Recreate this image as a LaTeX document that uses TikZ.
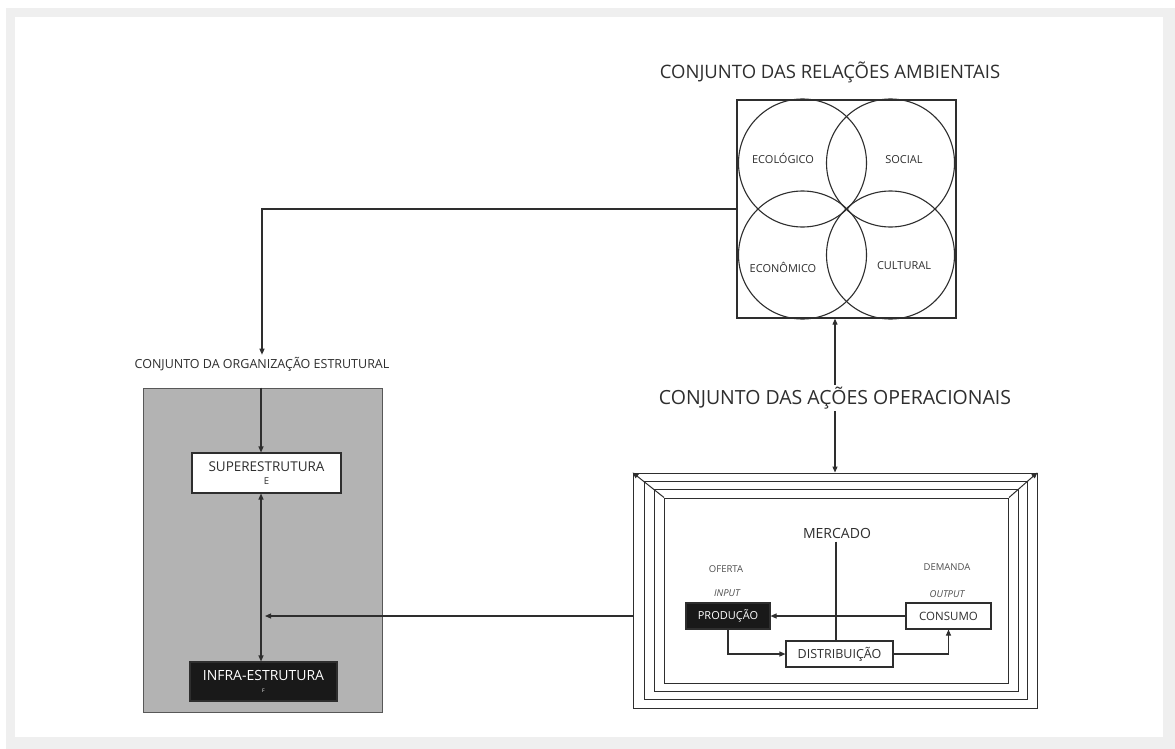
\documentclass[tikz,border=0pt]{standalone}
\usepackage{fontspec}
\setmainfont{Open Sans}
\usetikzlibrary{arrows.meta}

\definecolor{pagegray}{HTML}{EFEFEF}
\definecolor{boxgray}{HTML}{B3B3B3}
\definecolor{ink}{HTML}{2E2E2E}

\tikzset{
  wire/.style={line width=1.1pt, draw=ink},
  arr/.style={wire, -{Triangle[length=6pt,width=5pt]}},
  darr/.style={wire, {Triangle[length=6pt,width=5pt]}-{Triangle[length=6pt,width=5pt]}},
  title/.style={text=ink, inner sep=2pt},
  circlabel/.style={text=ink, font=\fontsize{11}{12}\selectfont},
  tiny/.style={text=ink!85, font=\fontsize{9.5}{10}\selectfont},
  whitebox/.style={draw=ink, line width=1.1pt, fill=white, inner sep=0pt, text=ink},
  blackbox/.style={draw=ink, line width=1.1pt, fill=black!90, inner sep=0pt, text=white},
  framerect/.style={draw=ink, line width=1pt},
}

\begin{document}
\begin{tikzpicture}[x=1pt, y=-1pt]
\useasboundingbox (0,0) rectangle (1175,749);
% page background
\fill[pagegray] (6,8) rectangle (1175,749);
\fill[white] (15,17) rectangle (1163,737);

% ---------- environmental relations ----------
\node[title, font=\fontsize{18.5}{20}\selectfont] (ambtitle) at (830,72) {CONJUNTO DAS RELAÇÕES AMBIENTAIS};
\node[draw=ink, line width=1.3pt, minimum width=219pt, minimum height=218pt, inner sep=0pt] (amb) at (846.5,209) {};
\draw[wire] (amb.center) ++(-44,-46) circle[radius=64pt];
\draw[wire] (amb.center) ++(44,-46) circle[radius=64pt];
\draw[wire] (amb.center) ++(-44,46) circle[radius=64pt];
\draw[wire] (amb.center) ++(44,46) circle[radius=64pt];
\node[circlabel] (eco) at (783,158) {ECOLÓGICO};
\node[circlabel] (soc) at (904,160) {SOCIAL};
\node[circlabel] (econ) at (783,267) {ECONÔMICO};
\node[circlabel] (cult) at (904,266) {CULTURAL};

% ---------- structural organisation ----------
\node[text=ink, font=\fontsize{12.5}{14}\selectfont, inner sep=2pt] (org) at (262,364) {CONJUNTO DA ORGANIZAÇÃO ESTRUTURAL};
\draw[arr] (amb.west) -| (org.north);

\node[draw=ink!80, line width=1pt, fill=boxgray, minimum width=239pt, minimum height=324pt, inner sep=0pt] (orgbox) at (262.5,550) {};
\coordinate (spine) at (261,0);
\node[whitebox, minimum width=149pt, minimum height=40pt, align=center] (super) at (266.5,473)
  {\fontsize{13.5}{14}\selectfont SUPERESTRUTURA\\[1pt]\fontsize{9.5}{10}\selectfont E};
\node[blackbox, minimum width=147pt, minimum height=39pt, align=center] (infra) at (263.5,681.5)
  {\fontsize{14}{14}\selectfont INFRA-ESTRUTURA\\[0pt]\fontsize{5}{6}\selectfont F};
\draw[arr] (orgbox.north -| spine) -- (super.north -| spine);
\draw[darr] (super.south -| spine) -- (infra.north -| spine);

% ---------- operational actions ----------
\node[title, font=\fontsize{19.5}{21}\selectfont] (ops) at (835,398) {CONJUNTO DAS AÇÕES OPERACIONAIS};
\draw[arr] (ops.north) -- (ops.north |- amb.south);

% nested frame
\node[framerect, minimum width=404pt, minimum height=235pt, inner sep=0pt] (frame) at (835,590.5) {};
\draw[framerect] (644.5,481.3) rectangle (1027.5,699.7);
\draw[framerect] (654.5,489.6) rectangle (1018,691.4);
\node[framerect, minimum width=344pt, minimum height=185pt, inner sep=0pt] (inner) at (836.5,590.5) {};
\draw[arr, line width=1pt] (inner.north west) -- (frame.north west);
\draw[arr, line width=1pt] (inner.north east) -- (frame.north east);
\draw[arr] (ops.south) -- (ops.south |- frame.north);

% market
\node[text=ink, font=\fontsize{14}{15}\selectfont] (merc) at (837,533) {MERCADO};
\node[tiny] (oferta) at (726,569) {OFERTA};
\node[tiny, font=\fontsize{9.5}{10}\selectfont\itshape] (input) at (727,593) {INPUT};
\node[tiny] (demanda) at (947,567) {DEMANDA};
\node[tiny, font=\fontsize{9.5}{10}\selectfont\itshape] (output) at (947,594) {OUTPUT};

\node[blackbox, minimum width=84pt, minimum height=26pt, font=\fontsize{11}{13}\selectfont] (prod) at (728,616) {PRODUÇÃO};
\node[whitebox, minimum width=85pt, minimum height=26pt, font=\fontsize{11.5}{14}\selectfont] (cons) at (948.5,616) {CONSUMO};
\node[whitebox, minimum width=107pt, minimum height=26pt, font=\fontsize{12.5}{13}\selectfont] (dist) at (839.5,654) {DISTRIBUIÇÃO};

\draw[wire] (merc.south -| 836,0) -- (836,0 |- dist.north);
\draw[arr] (cons.west) -- (prod.east);
\draw[arr] (prod.south) |- (dist.west);
\draw[arr] (dist.east) -| (cons.south);

% link from the market frame into the structure
\draw[arr] (frame.west |- prod.west) -- ([xshift=4pt]spine |- prod.west);
\end{tikzpicture}
\end{document}
